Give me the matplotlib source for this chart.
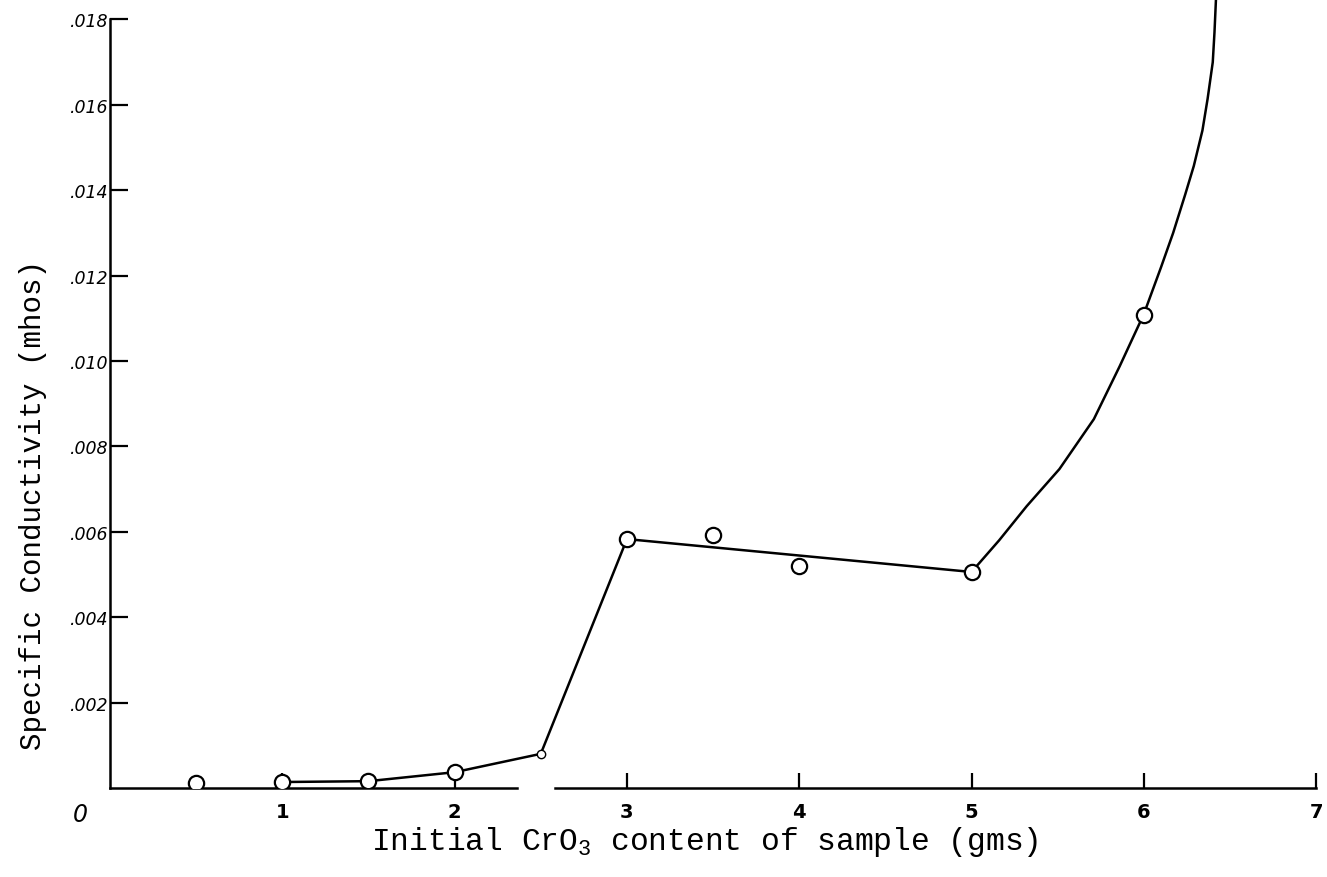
import matplotlib
matplotlib.use("Agg")
import matplotlib.pyplot as plt

# measured points (open circles)
cro3 = [0.5, 1.0, 1.5, 2.0, 2.5, 3.0, 3.5, 4.0, 5.0, 6.0]
cond = [0.00012, 0.00014, 0.00016, 0.00037, 0.00080, 0.00583, 0.00593, 0.00520, 0.00506, 0.01108]

# hand drawn line
line_x = [1.0, 1.5, 2.0, 2.5, 3.0, 5.0, 5.16, 5.32, 5.51, 5.71, 5.86, 6.0, 6.1, 6.17,
          6.24, 6.29, 6.34, 6.37, 6.40, 6.41, 6.42]
line_y = [0.00014, 0.00016, 0.00037, 0.00080, 0.00583, 0.00506, 0.0058, 0.0066, 0.00747,
          0.00864, 0.00988, 0.0111, 0.0122, 0.0130, 0.0139, 0.01457, 0.0154, 0.01614,
          0.0170, 0.0177, 0.0186]

yticks = [0.002, 0.004, 0.006, 0.008, 0.010, 0.012, 0.014, 0.016, 0.018]
ytick_labels = [".002", ".004", ".006", ".008", ".010", ".012", ".014", ".016", ".018"]
xticks = [1, 2, 3, 4, 5, 6, 7]
xtick_labels = ["1", "2", "3", "4", "5", "6", "7"]

plt.rcParams["mathtext.fontset"] = "custom"
plt.rcParams["mathtext.rm"] = "Liberation Mono"

fig = plt.figure(figsize=(13.27, 8.78), dpi=100)
ax = fig.add_axes([110 / 1327, 89 / 878, 1217 / 1327, 789 / 878])
ax.set_xlim(0, 7.063)
ax.set_ylim(0, 0.01848)

ax.plot(line_x, line_y, color="black", lw=1.8, clip_on=False, zorder=2)
# the 2.5 g point was drawn as a smaller circle
big = [i for i in range(len(cro3)) if cro3[i] != 2.5]
small = [i for i in range(len(cro3)) if cro3[i] == 2.5]
ax.plot([cro3[i] for i in big], [cond[i] for i in big], "o", ms=11, mfc="white",
        mec="black", mew=1.6, zorder=3)
ax.plot([cro3[i] for i in small], [cond[i] for i in small], "o", ms=6, mfc="white",
        mec="black", mew=1.0, zorder=3)

for s in ["top", "right", "bottom"]:
    ax.spines[s].set_visible(False)
ax.spines["left"].set_bounds(0, 0.018)
ax.spines["left"].set_linewidth(1.8)

# x axis drawn in two pieces, the sheet has a gap near 2.5
ax.plot([0, 2.36], [0, 0], color="black", lw=1.8, clip_on=False)
ax.plot([2.58, 7.0], [0, 0], color="black", lw=1.8, clip_on=False)

ax.set_yticks(yticks)
ax.set_yticklabels(ytick_labels, fontsize=12.5, style="italic", family="DejaVu Sans")
ax.tick_params(axis="y", direction="in", length=13, width=1.6, pad=1)
ax.set_xticks(xticks)
ax.set_xticklabels(xtick_labels, fontsize=14, fontweight="bold", family="DejaVu Sans")
ax.tick_params(axis="x", direction="in", length=11, width=1.6, pad=10)

ax.text(-0.17, -0.00062, "0", fontsize=17, style="italic", ha="center", va="center",
        family="DejaVu Sans")

ax.set_xlabel("Initial CrO$_3$ content of sample (gms)", fontsize=22.5,
              family="Liberation Mono")
ax.xaxis.set_label_coords(0.489, -0.046)
ax.set_ylabel("Specific Conductivity (mhos)", fontsize=21, family="Liberation Mono")
ax.yaxis.set_label_coords(-0.052, 0.36)

plt.savefig("out.png", dpi=100)
